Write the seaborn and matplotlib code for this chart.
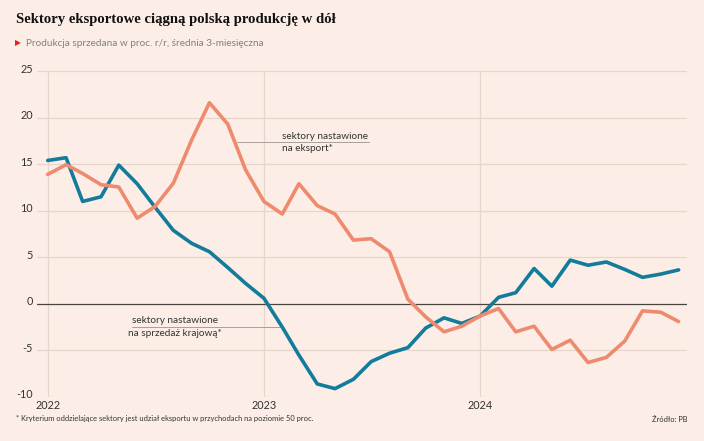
import pandas as pd
import matplotlib.pyplot as plt
import matplotlib.transforms as mtransforms
import seaborn as sns

# monthly data, Jan 2022 - Dec 2024 (3-month average, % y/y)
months = pd.date_range('2022-01-01', periods=36, freq='MS')
domestic = [15.4, 15.7, 11.0, 11.5, 14.9, 12.9, 10.4, 7.9, 6.5, 5.6, 3.9, 2.2,
            0.6, -2.5, -5.5, -8.6, -9.1, -8.1, -6.2, -5.3, -4.7, -2.6, -1.5, -2.1,
            -1.3, 0.7, 1.2, 3.8, 1.9, 4.7, 4.15, 4.5, 3.7, 2.85, 3.2, 3.65]
export = [13.9, 14.95, 14.0, 12.8, 12.55, 9.2, 10.45, 12.95, 17.6, 21.6, 19.3, 14.4,
          11.0, 9.65, 12.9, 10.55, 9.65, 6.85, 7.0, 5.6, 0.5, -1.4, -3.0, -2.4,
          -1.3, -0.5, -3.0, -2.4, -4.9, -3.9, -6.3, -5.75, -4.0, -0.75, -0.9, -1.9]
yticks = [-10, -5, 0, 5, 10, 15, 20, 25]
year_ticks = pd.to_datetime(['2022-01-01', '2023-01-01', '2024-01-01'])

df = pd.DataFrame({'date': months, 'domestic': domestic, 'export': export})

BG = '#FCEEE6'
GRID = '#E6D5CB'
BLUE = '#137B9C'
ORANGE = '#EE8B6F'
TXT = '#333333'

sns.set_theme(style='white')
plt.rcParams['font.family'] = ['Lato', 'DejaVu Sans']

fig = plt.figure(figsize=(7.04, 4.41), dpi=100, facecolor=BG)
ax = fig.add_axes([0.0521, 0.0998, 0.924, 0.739])
ax.set_facecolor(BG)

# grid
for v in yticks:
    if v == 0:
        continue
    ax.axhline(v, color=GRID, lw=0.9, zorder=0)
for d in year_ticks:
    ax.axvline(d, color=GRID, lw=0.9, zorder=0)
ax.axhline(0, color='#4a4440', lw=0.9, zorder=1)

sns.lineplot(data=df, x='date', y='domestic', color=BLUE, lw=2.6, ax=ax, zorder=3)
sns.lineplot(data=df, x='date', y='export', color=ORANGE, lw=2.6, ax=ax, zorder=3)

ax.set_xlim(months[0] - pd.Timedelta(days=18.6), months[-1] + pd.Timedelta(days=14.4))
ax.set_ylim(-10, 25)
ax.set_yticks(yticks)
ax.set_yticklabels([str(v) for v in yticks])
ax.set_xticks(year_ticks)
ax.set_xticklabels(['2022', '2023', '2024'])
ax.tick_params(axis='y', length=0, pad=2.6, labelsize=7.8, labelcolor=TXT)
ax.tick_params(axis='x', length=0, pad=2.5, labelsize=7.8, labelcolor=TXT)
offset = mtransforms.ScaledTranslation(0, 3 / 100, fig.dpi_scale_trans)
for lab in ax.get_yticklabels():
    lab.set_transform(lab.get_transform() + offset)
ax.set_xlabel('')
ax.set_ylabel('')
for s in ax.spines.values():
    s.set_visible(False)


def mx(m):
    return months[0] + pd.Timedelta(days=m * 30.44)


# annotations
ax.plot([mx(10.5), mx(17.8)], [17.4, 17.4], color='#a9a09a', lw=0.7, zorder=2)
ax.text(mx(13.0), 18.0, 'sektory nastawione', fontsize=7.2, color=TXT, ha='left', va='center')
ax.text(mx(13.0), 16.7, 'na eksport*', fontsize=7.2, color=TXT, ha='left', va='center')

ax.plot([mx(4.7), mx(12.9)], [-2.5, -2.5], color='#a9a09a', lw=0.7, zorder=2)
ax.text(mx(7.05), -1.8, 'sektory nastawione', fontsize=7.2, color=TXT, ha='center', va='center')
ax.text(mx(7.05), -3.15, 'na sprzedaż krajową*', fontsize=7.2, color=TXT, ha='center', va='center')

# titles
title = fig.text(16 / 704, 1 - 20 / 441, 'Sektory eksportowe ciągną polską produkcję w dół',
                 family=['Liberation Serif'], fontweight='bold', fontsize=13, color='#111111',
                 ha='left', va='center')
# fit title to the width seen in the original (~318 px)
fig.canvas.draw()
w = title.get_window_extent().width
title.set_fontsize(13 * 318 / w)

fig.text(15 / 704, 1 - 43 / 441, '▶', family=['DejaVu Sans'], fontsize=5.5, color='#E2231A',
         ha='left', va='center')
fig.text(26 / 704, 1 - 43 / 441, 'Produkcja sprzedana w proc. r/r, średnia 3-miesięczna',
         fontsize=7.2, color='#808080', ha='left', va='center')

# footer
fig.text(16 / 704, 1 - 419 / 441,
         '* Kryterium oddzielające sektory jest udział eksportu w przychodach na poziomie 50 proc.',
         fontsize=5.45, color=TXT, ha='left', va='center')
fig.text(687 / 704, 1 - 419 / 441, 'Źródło: PB', fontsize=5.45, color=TXT, ha='right', va='center')

fig.savefig('out.png', dpi=100, facecolor=BG)
